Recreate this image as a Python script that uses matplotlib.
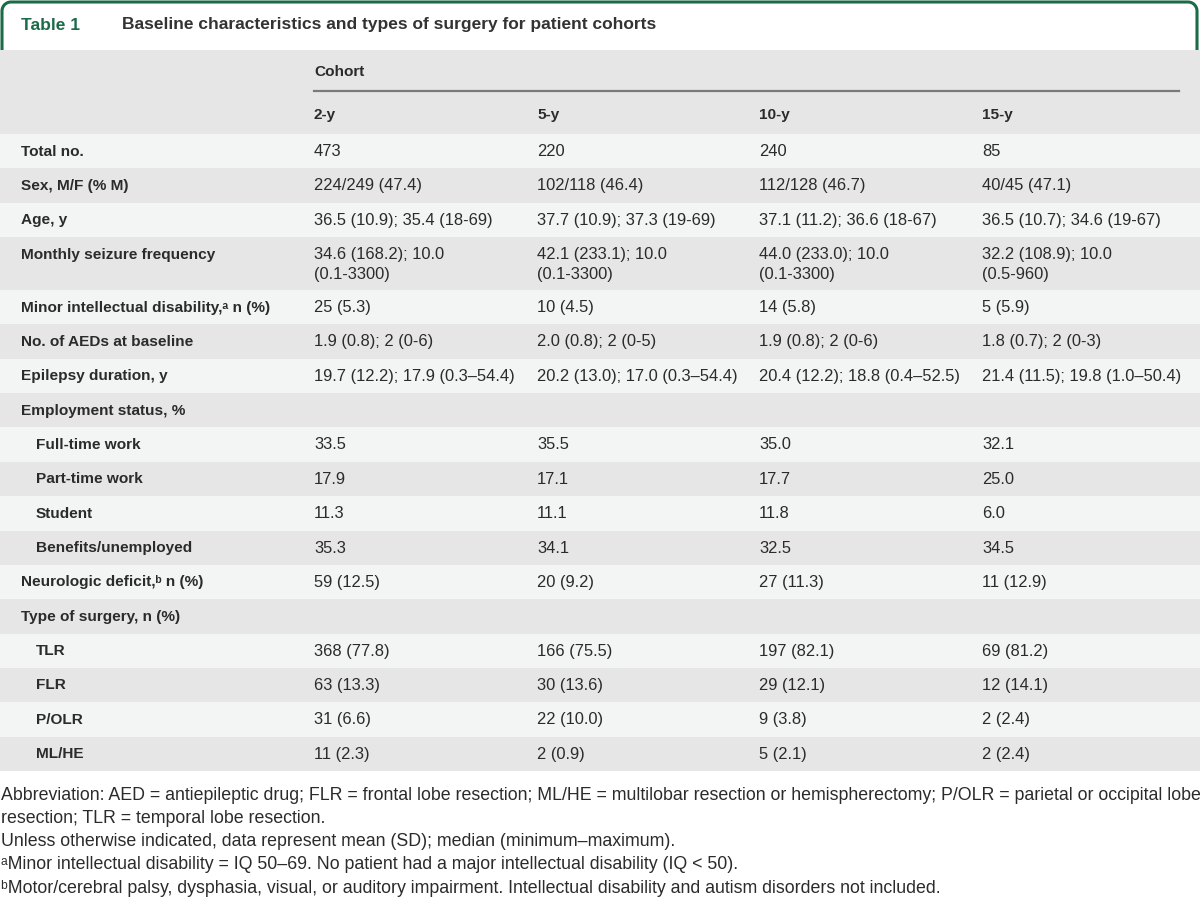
import matplotlib.pyplot as plt
import numpy as np
from matplotlib.patches import Rectangle

# table content
title_no = "Table 1"
title = "Baseline characteristics and types of surgery for patient cohorts"
cohorts = ["2-y", "5-y", "10-y", "15-y"]

labels = ["Total no.", "Sex, M/F (% M)", "Age, y", "Monthly seizure frequency",
          "Minor intellectual disability,\u1d43 n (%)", "No. of AEDs at baseline",
          "Epilepsy duration, y", "Employment status, %", "Full-time work",
          "Part-time work", "Student", "Benefits/unemployed",
          "Neurologic deficit,\u1d47 n (%)", "Type of surgery, n (%)",
          "TLR", "FLR", "P/OLR", "ML/HE"]
indented = [0, 0, 0, 0, 0, 0, 0, 0, 1, 1, 1, 1, 0, 0, 1, 1, 1, 1]

col_2y = ["473", "224/249 (47.4)", "36.5 (10.9); 35.4 (18-69)",
          "34.6 (168.2); 10.0\n(0.1-3300)", "25 (5.3)", "1.9 (0.8); 2 (0-6)",
          "19.7 (12.2); 17.9 (0.3\u201354.4)", "", "33.5", "17.9", "11.3", "35.3",
          "59 (12.5)", "", "368 (77.8)", "63 (13.3)", "31 (6.6)", "11 (2.3)"]
col_5y = ["220", "102/118 (46.4)", "37.7 (10.9); 37.3 (19-69)",
          "42.1 (233.1); 10.0\n(0.1-3300)", "10 (4.5)", "2.0 (0.8); 2 (0-5)",
          "20.2 (13.0); 17.0 (0.3\u201354.4)", "", "35.5", "17.1", "11.1", "34.1",
          "20 (9.2)", "", "166 (75.5)", "30 (13.6)", "22 (10.0)", "2 (0.9)"]
col_10y = ["240", "112/128 (46.7)", "37.1 (11.2); 36.6 (18-67)",
           "44.0 (233.0); 10.0\n(0.1-3300)", "14 (5.8)", "1.9 (0.8); 2 (0-6)",
           "20.4 (12.2); 18.8 (0.4\u201352.5)", "", "35.0", "17.7", "11.8", "32.5",
           "27 (11.3)", "", "197 (82.1)", "29 (12.1)", "9 (3.8)", "5 (2.1)"]
col_15y = ["85", "40/45 (47.1)", "36.5 (10.7); 34.6 (19-67)",
           "32.2 (108.9); 10.0\n(0.5-960)", "5 (5.9)", "1.8 (0.7); 2 (0-3)",
           "21.4 (11.5); 19.8 (1.0\u201350.4)", "", "32.1", "25.0", "6.0", "34.5",
           "11 (12.9)", "", "69 (81.2)", "12 (14.1)", "2 (2.4)", "2 (2.4)"]

footnotes = [
    "Abbreviation: AED = antiepileptic drug; FLR = frontal lobe resection; ML/HE = multilobar resection or hemispherectomy; P/OLR = parietal or occipital lobe",
    "resection; TLR = temporal lobe resection.",
    "Unless otherwise indicated, data represent mean (SD); median (minimum\u2013maximum).",
    "\u1d43Minor intellectual disability = IQ 50\u201369. No patient had a major intellectual disability (IQ < 50).",
    "\u1d47Motor/cerebral palsy, dysphasia, visual, or auditory impairment. Intellectual disability and autism disorders not included.",
]

GREEN = "#1b6b48"
TXT = "#2b2b2b"
GREY = "#e6e6e6"
LIGHT = "#f3f4f4"
body = ["Liberation Sans", "DejaVu Sans"]

fig = plt.figure(figsize=(12, 8.98), dpi=100)
ax = fig.add_axes([0, 0, 1, 1])
ax.set_xlim(0, 1200)
ax.set_ylim(898, 0)
ax.axis("off")

# green tab outline with rounded corners
r = 9
t1 = np.linspace(np.pi, 1.5 * np.pi, 20)
t2 = np.linspace(1.5 * np.pi, 2 * np.pi, 20)
xs = np.concatenate([[2], 2 + r + r * np.cos(t1), 1197 - r + r * np.cos(t2), [1197]])
ys = np.concatenate([[50], 2 + r + r * np.sin(t1), 2 + r + r * np.sin(t2), [50]])
ax.plot(xs, ys, color=GREEN, lw=2.2, solid_capstyle="butt")

ax.text(21, 25, title_no, color=GREEN, fontsize=12.5, fontweight="bold",
        family=body, va="center")
ax.text(122, 25, title, color="#333333", fontsize=12.5, fontweight="bold",
        family=body, va="center")

# header band
ax.add_patch(Rectangle((0, 50), 1200, 84, color=GREY, lw=0))
col_x = [314, 537, 759, 982]
ax.text(col_x[0], 72, "Cohort", fontsize=11.1, fontweight="bold", family=body,
        color=TXT, va="center")
ax.plot([col_x[0], 1179], [91, 91], color="#7a7a7a", lw=1.6)
for cx, c in zip(col_x, cohorts):
    ax.text(cx, 115, c, fontsize=11.1, fontweight="bold", family=body,
            color=TXT, va="center")

# body rows
columns = [col_2y, col_5y, col_10y, col_15y]
row_h = 34.35
y = 134
for i, lab in enumerate(labels):
    n_lines = max(len(col[i].split("\n")) for col in columns)
    h = row_h if n_lines == 1 else 53
    ax.add_patch(Rectangle((0, y), 1200, h, color=LIGHT if i % 2 == 0 else GREY, lw=0))
    ty = y + 17.5
    ax.text(21 + 15 * indented[i], ty, lab, fontsize=11.1, fontweight="bold",
            family=body, color=TXT, va="center")
    for cx, col in zip(col_x, columns):
        for k, line in enumerate(col[i].split("\n")):
            ax.text(cx, ty + 20 * k, line, fontsize=11.9, family=body,
                    color=TXT, va="center")
    y += h

# footnotes
for k, note in enumerate(footnotes):
    ax.text(1, 795 + 23.3 * k, note, fontsize=12.75, family=body, color=TXT,
            va="center")

fig.savefig("out.png", dpi=100, facecolor="white")
